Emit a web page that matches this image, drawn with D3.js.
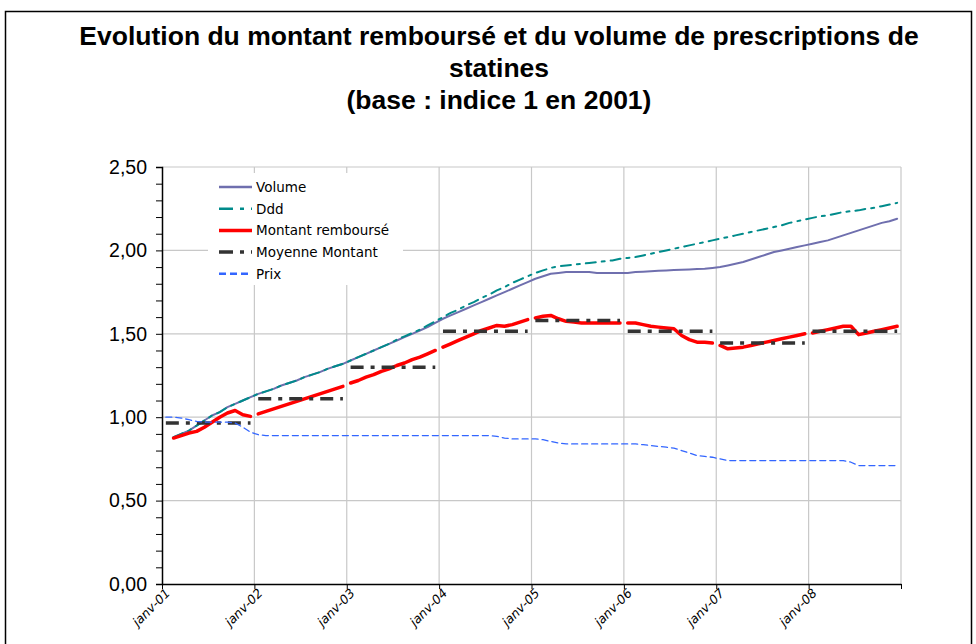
<!DOCTYPE html>
<html lang="fr">
	<head>
		<meta charset="utf-8">
		<title>Statines</title>
		<script type="text/javascript" src="https://d3js.org/d3.v7.min.js"></script>
		<style>
			body { margin:0; background:#fff; }
		</style>
	</head>
	<body>
		<svg id="chart"></svg>
		<script>
			// monthly values, janv-01 .. déc-08 (96 months), base 1 = 2001
			var yearLabels = ["janv-01","janv-02","janv-03","janv-04","janv-05","janv-06","janv-07","janv-08"];

			var volume = [null,0.88,0.90,0.92,0.95,0.98,1.01,1.03,1.06,1.08,1.10,1.12,
				1.14,1.155,1.17,1.19,1.205,1.22,1.24,1.255,1.27,1.29,1.305,1.32,
				1.34,1.36,1.38,1.40,1.42,1.44,1.46,1.48,1.50,1.52,1.54,1.565,
				1.59,1.61,1.63,1.65,1.67,1.69,1.71,1.73,1.75,1.77,1.79,1.81,
				1.83,1.845,1.86,1.865,1.87,1.87,1.87,1.87,1.865,1.865,1.865,1.865,
				1.865,1.87,1.872,1.875,1.878,1.88,1.882,1.884,1.886,1.888,1.89,1.895,
				1.90,1.91,1.92,1.93,1.945,1.96,1.975,1.99,2.00,2.01,2.02,2.03,
				2.04,2.05,2.06,2.075,2.09,2.105,2.12,2.135,2.15,2.165,2.175,2.19];

			var ddd = [null,0.88,0.90,0.92,0.95,0.98,1.01,1.03,1.06,1.08,1.10,1.12,
				1.14,1.155,1.17,1.19,1.205,1.22,1.24,1.255,1.27,1.29,1.305,1.32,
				1.34,1.36,1.38,1.40,1.42,1.44,1.465,1.485,1.505,1.525,1.55,1.575,
				1.60,1.625,1.645,1.67,1.69,1.715,1.735,1.76,1.78,1.805,1.825,1.845,
				1.865,1.88,1.895,1.905,1.91,1.915,1.92,1.925,1.93,1.935,1.94,1.95,
				1.955,1.96,1.97,1.98,1.99,2.00,2.01,2.02,2.03,2.04,2.05,2.06,
				2.07,2.08,2.09,2.10,2.11,2.12,2.13,2.14,2.15,2.165,2.175,2.185,
				2.195,2.205,2.21,2.22,2.23,2.235,2.24,2.25,2.255,2.265,2.275,2.285];

			var montant = [null,0.875,0.89,0.905,0.915,0.94,0.97,1.00,1.025,1.04,1.015,1.005,
				1.02,1.035,1.05,1.065,1.08,1.095,1.11,1.125,1.14,1.155,1.17,1.185,
				1.205,1.22,1.24,1.255,1.275,1.29,1.31,1.325,1.345,1.36,1.38,1.40,
				1.42,1.44,1.46,1.48,1.50,1.52,1.535,1.55,1.545,1.555,1.57,1.585,
				1.595,1.605,1.61,1.59,1.575,1.57,1.565,1.565,1.565,1.565,1.565,1.565,
				1.565,1.565,1.555,1.545,1.54,1.535,1.53,1.49,1.465,1.45,1.45,1.445,
				1.43,1.41,1.415,1.42,1.43,1.44,1.45,1.46,1.47,1.48,1.49,1.50,
				1.505,1.515,1.525,1.535,1.545,1.545,1.495,1.505,1.515,1.525,1.535,1.545];

			var prix = [1.00,1.00,0.995,0.985,0.975,0.97,0.97,0.97,0.97,0.965,0.94,0.91,
				0.895,0.89,0.89,0.89,0.89,0.89,0.89,0.89,0.89,0.89,0.89,0.89,
				0.89,0.89,0.89,0.89,0.89,0.89,0.89,0.89,0.89,0.89,0.89,0.89,
				0.89,0.89,0.89,0.89,0.89,0.89,0.89,0.885,0.875,0.87,0.87,0.87,
				0.87,0.865,0.855,0.845,0.84,0.84,0.84,0.84,0.84,0.84,0.84,0.84,
				0.84,0.84,0.835,0.83,0.825,0.82,0.815,0.80,0.785,0.77,0.765,0.76,
				0.75,0.74,0.74,0.74,0.74,0.74,0.74,0.74,0.74,0.74,0.74,0.74,
				0.74,0.74,0.74,0.74,0.74,0.73,0.71,0.71,0.71,0.71,0.71,0.71];

			// yearly average of montant remboursé
			var moyenne = [0.965,1.11,1.30,1.515,1.58,1.515,1.445,1.515];

			var width = 976;
			var height = 644;
			var plot = {left:162,right:901,top:167,bottom:584};

			var svg = d3.select("#chart")
				.attr("width",width)
				.attr("height",height);

			// frame
			svg.append("rect")
				.attr("x",5.5).attr("y",11.5)
				.attr("width",966).attr("height",700)
				.attr("fill","#fff")
				.attr("stroke","#000")
				.attr("stroke-width",1.5);

			var title = ["Evolution du montant remboursé et du volume de prescriptions de",
				"statines","(base : indice 1 en 2001)"];
			svg.selectAll("text.title")
				.data(title)
				.enter()
				.append("text")
				.attr("class","title")
				.attr("x",499)
				.attr("y",(d,i)=>45+i*32)
				.attr("text-anchor","middle")
				.attr("font-family","'Liberation Sans', Arial, sans-serif")
				.attr("font-weight","bold")
				.attr("font-size","26.5px")
				.text(d=>d);

			var xScale = d3.scaleLinear()
				.domain([0,96])
				.range([plot.left,plot.right]);

			var yScale = d3.scaleLinear()
				.domain([0,2.5])
				.range([plot.bottom,plot.top]);

			var xm = i=>xScale(i+0.5);

			// gridlines
			svg.append("g")
				.selectAll("line")
				.data([0.5,1,1.5,2,2.5])
				.enter()
				.append("line")
				.attr("x1",plot.left).attr("x2",plot.right)
				.attr("y1",d=>yScale(d)).attr("y2",d=>yScale(d))
				.attr("stroke","#c8c8c8")
				.attr("stroke-width",1.2);

			svg.append("g")
				.selectAll("line")
				.data(d3.range(12,97,12))
				.enter()
				.append("line")
				.attr("x1",d=>xScale(d)).attr("x2",d=>xScale(d))
				.attr("y1",plot.top).attr("y2",plot.bottom)
				.attr("stroke","#c8c8c8")
				.attr("stroke-width",1.2);

			// axes
			var yAxis = d3.axisLeft(yScale)
				.tickValues(d3.range(0,2.51,0.1))
				.tickSize(6)
				.tickFormat(d=>(Math.round(d*10)%5==0) ? d3.format(".2f")(d).replace(".",",") : "");
			svg.append("g")
				.attr("transform","translate("+plot.left+",0)")
				.call(yAxis)
				.call(g=>g.select(".domain").attr("stroke","#000").attr("stroke-width",1.5))
				.call(g=>g.selectAll("text")
					.attr("x",-15)
					.attr("font-family","'Liberation Sans', Arial, sans-serif")
					.attr("font-size","19.5px")
					.attr("fill","#000"));

			var xAxis = d3.axisBottom(xScale)
				.tickValues(d3.range(0,97,12))
				.tickSize(5)
				.tickSizeOuter(0)
				.tickFormat((d,i)=>yearLabels[i] || "");
			svg.append("g")
				.attr("transform","translate(0,"+plot.bottom+")")
				.call(xAxis)
				.call(g=>g.select(".domain").attr("stroke","#000").attr("stroke-width",1.5))
				.call(g=>g.selectAll("text")
					.attr("font-family","'DejaVu Sans', Verdana, sans-serif")
					.attr("font-size","12.5px")
					.attr("font-style","italic")
					.attr("fill","#000")
					.attr("text-anchor","end")
					.attr("dx","-1")
					.attr("dy","5")
					.attr("transform","rotate(-45)"));

			// series
			var line = d3.line()
				.defined(d=>d[1]!=null)
				.x(d=>xm(d[0]))
				.y(d=>yScale(d[1]));

			var series = [
				{name:"Volume",values:volume,color:"#6f6fae",width:2,dash:null,breaks:false},
				{name:"Ddd",values:ddd,color:"#008b8b",width:2,dash:"10,6,3,6",breaks:false},
				{name:"Montant remboursé",values:montant,color:"#ff0000",width:3.5,dash:null,breaks:true},
				{name:"Moyenne Montant",values:null,color:"#333333",width:3.5,dash:"13,7,4,7",breaks:true},
				{name:"Prix",values:prix,color:"#3366ff",width:1.3,dash:"6,4",breaks:false}
			];

			series.forEach(function(s){
				var g = svg.append("g");
				if (s.values==null) {
					// one flat segment per year
					g.selectAll("line")
						.data(moyenne)
						.enter()
						.append("line")
						.attr("x1",(d,i)=>xm(i*12)).attr("x2",(d,i)=>xm(i*12+11))
						.attr("y1",d=>yScale(d)).attr("y2",d=>yScale(d))
						.attr("stroke",s.color)
						.attr("stroke-width",s.width)
						.attr("stroke-dasharray",s.dash);
					return;
				}
				var pts = s.values.map((v,i)=>[i,v]);
				var chunks = s.breaks ? d3.range(8).map(y=>pts.slice(y*12,y*12+12)) : [pts];
				g.selectAll("path")
					.data(chunks)
					.enter()
					.append("path")
					.attr("d",line)
					.attr("fill","none")
					.attr("stroke",s.color)
					.attr("stroke-width",s.width)
					.attr("stroke-linecap","round")
					.attr("stroke-linejoin","round")
					.attr("stroke-dasharray",s.dash);
			});

			// legend
			var legend = svg.append("g");
			legend.append("rect")
				.attr("x",208).attr("y",173)
				.attr("width",195).attr("height",112)
				.attr("fill","#fff");
			var items = legend.selectAll("g.item")
				.data(series)
				.enter()
				.append("g")
				.attr("transform",(d,i)=>"translate(219,"+(187+i*21.7)+")");
			items.append("line")
				.attr("x1",0).attr("x2",33)
				.attr("stroke",d=>d.color)
				.attr("stroke-width",d=>Math.max(d.width,2.5))
				.attr("stroke-dasharray",d=>d.name=="Prix" ? "7,4" : (d.dash ? "14,7,4,7" : null));
			items.append("text")
				.attr("x",37)
				.attr("y",5)
				.attr("font-family","'DejaVu Sans', Verdana, sans-serif")
				.attr("font-size","13.5px")
				.text(d=>d.name);
		</script>
	</body>
</html>
